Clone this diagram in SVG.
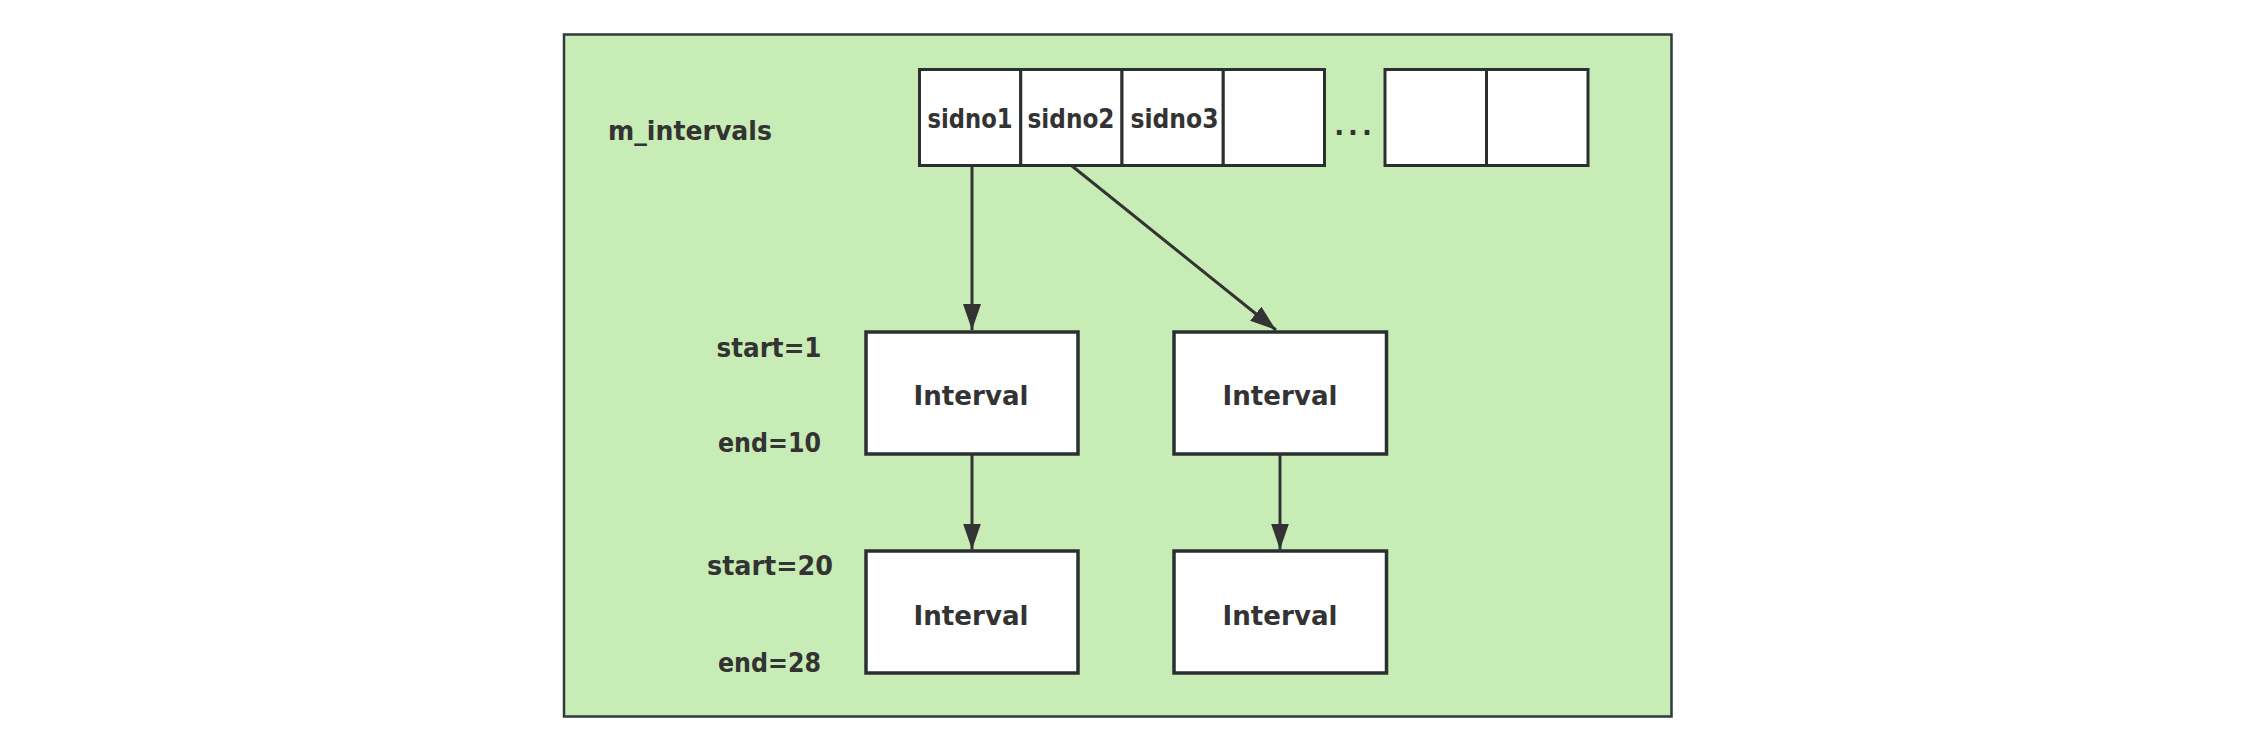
<svg xmlns="http://www.w3.org/2000/svg" width="2242" height="740" viewBox="0 0 2242 740">
  <style>
    .frame { fill: #c8ecb5; stroke: #2f3a3d; stroke-width: 2.5; }
    .box { fill: #ffffff; stroke: #2b2f31; stroke-width: 3.5; }
    .cell { fill: #ffffff; stroke: #2b2f31; stroke-width: 3; }
    .lbl { font-family: "DejaVu Sans", "Liberation Sans", sans-serif; font-weight: bold; fill: #333333; }
    .conn { stroke: #333333; stroke-width: 3; fill: none; marker-end: url(#arrow); }
  </style>
  <defs>
    <marker id="arrow" markerUnits="userSpaceOnUse" markerWidth="26" markerHeight="18" refX="26" refY="9" orient="auto">
      <path d="M0,0 L26,9 L0,18 Z" fill="#333333"/>
    </marker>
  </defs>
  <rect x="0" y="0" width="2242" height="740" fill="#ffffff"/>

  <g id="container">
    <rect class="frame" x="564" y="34.5" width="1107.5" height="682"/>
  </g>

  <g id="m_intervals-label">
    <text class="lbl" x="608" y="140" font-size="27" textLength="164" lengthAdjust="spacingAndGlyphs">m_intervals</text>
  </g>

  <g id="m_intervals-array">
    <rect class="cell" x="919.5" y="69.5" width="101.25" height="96"/>
    <rect class="cell" x="1020.75" y="69.5" width="101.25" height="96"/>
    <rect class="cell" x="1122" y="69.5" width="101.25" height="96"/>
    <rect class="cell" x="1223.25" y="69.5" width="101.25" height="96"/>
    <rect class="cell" x="1385" y="69.5" width="101.5" height="96"/>
    <rect class="cell" x="1486.5" y="69.5" width="101.5" height="96"/>
    <text class="lbl" x="970" y="128" font-size="26" text-anchor="middle" textLength="85" lengthAdjust="spacingAndGlyphs">sidno1</text>
    <text class="lbl" x="1071" y="128" font-size="26" text-anchor="middle" textLength="87" lengthAdjust="spacingAndGlyphs">sidno2</text>
    <text class="lbl" x="1174.5" y="128" font-size="26" text-anchor="middle" textLength="88" lengthAdjust="spacingAndGlyphs">sidno3</text>
    <text class="lbl" x="1355" y="135" font-size="26" text-anchor="middle" letter-spacing="4">...</text>
  </g>

  <g id="interval-1-1">
    <rect class="box" x="866" y="332" width="212" height="122"/>
    <text class="lbl" x="971" y="405" font-size="27" text-anchor="middle" textLength="115" lengthAdjust="spacingAndGlyphs">Interval</text>
  </g>
  <g id="interval-1-2">
    <rect class="box" x="866" y="551" width="212" height="122"/>
    <text class="lbl" x="971" y="625" font-size="27" text-anchor="middle" textLength="115" lengthAdjust="spacingAndGlyphs">Interval</text>
  </g>
  <g id="interval-2-1">
    <rect class="box" x="1174" y="332" width="212.5" height="122"/>
    <text class="lbl" x="1280" y="405" font-size="27" text-anchor="middle" textLength="115" lengthAdjust="spacingAndGlyphs">Interval</text>
  </g>
  <g id="interval-2-2">
    <rect class="box" x="1174" y="551" width="212.5" height="122"/>
    <text class="lbl" x="1280" y="625" font-size="27" text-anchor="middle" textLength="115" lengthAdjust="spacingAndGlyphs">Interval</text>
  </g>

  <g id="range-labels">
    <text class="lbl" x="769" y="357" font-size="27" text-anchor="middle" textLength="105" lengthAdjust="spacingAndGlyphs">start=1</text>
    <text class="lbl" x="769.5" y="452" font-size="27" text-anchor="middle" textLength="103" lengthAdjust="spacingAndGlyphs">end=10</text>
    <text class="lbl" x="770" y="575" font-size="27" text-anchor="middle" textLength="126" lengthAdjust="spacingAndGlyphs">start=20</text>
    <text class="lbl" x="769.5" y="672" font-size="27" text-anchor="middle" textLength="103" lengthAdjust="spacingAndGlyphs">end=28</text>
  </g>

  <g id="connectors">
    <line class="conn" x1="972" y1="166" x2="972" y2="330"/>
    <line class="conn" x1="1072" y1="166" x2="1276" y2="330"/>
    <line class="conn" x1="972" y1="455" x2="972" y2="549.5"/>
    <line class="conn" x1="1280" y1="455" x2="1280" y2="549.5"/>
  </g>
</svg>
